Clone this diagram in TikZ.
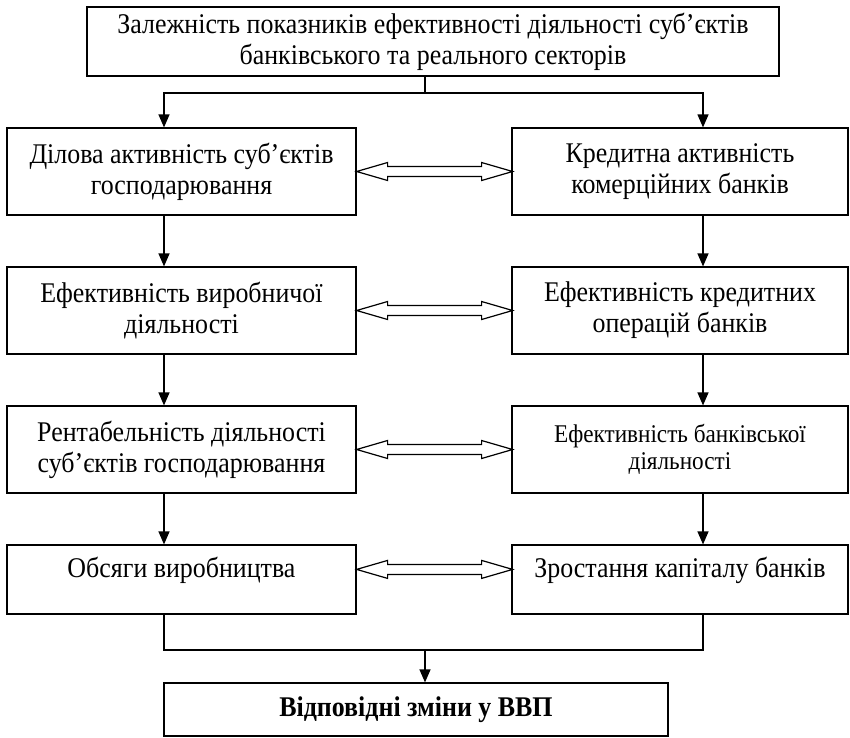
\documentclass[tikz,border=0pt]{standalone}
\usepackage{fontspec}
\setmainfont{Liberation Serif}[FakeStretch=0.91]
\usetikzlibrary{arrows.meta}

\tikzset{
  block/.style={draw, line width=1.2pt, align=center, inner sep=0pt,
    font=\fontsize{28.5}{31}\selectfont},
  leftblock/.style={block, minimum width=349pt, minimum height=87pt},
  rightblock/.style={block, minimum width=336pt, minimum height=87pt},
  link/.style={draw, line width=1.2pt, -{Triangle[length=13pt,width=11pt]}},
  twoway/.style={draw, line width=1.2pt, fill=white}
}

\begin{document}
\begin{tikzpicture}[x=1pt,y=-1pt]

      \useasboundingbox (0,0) rectangle (850,737);

      \node[block, minimum width=692pt, minimum height=69pt] (top) at (433,41.5)
        {Залежність показників ефективності діяльності суб’єктів\\банківського та реального секторів};

      \node[leftblock] (L1) at (181.5,171.5) {Ділова активність суб’єктів\\господарювання};
      \node[leftblock] (L2) at (181.5,310.5) {Ефективність виробничої\\діяльності};
      \node[leftblock] (L3) at (181.5,449.5) {Рентабельність діяльності\\суб’єктів господарювання};
      \node[leftblock, minimum height=69pt, text height=20pt, text depth=25pt] (L4) at (181.5,579.5)
        {Обсяги виробництва};

      \node[rightblock] (R1) at (680,171.5) {Кредитна активність\\комерційних банків};
      \node[rightblock] (R2) at (680,310.5) {Ефективність кредитних\\операцій банків};
      \node[rightblock, font=\fontsize{25.5}{27}\selectfont] (R3) at (680,449.5)
        {Ефективність банківської\\діяльності};
      \node[rightblock, minimum height=69pt, text height=20pt, text depth=25pt] (R4) at (680,579.5)
        {Зростання капіталу банків};

      \node[block, minimum width=504pt, minimum height=53pt, font=\fontsize{28.5}{31}\selectfont\bfseries]
        (gdp) at (416,709.5) {Відповідні зміни у ВВП};

      \coordinate (lx) at (164,0);
      \coordinate (rx) at (703,0);
      \coordinate (split) at (425,93);
      \coordinate (join) at (425,650);

      % top box to both columns
      \draw[line width=1.2pt] (top.south -| split) -- (split);
      \draw[link] (split) -| (L1.north -| lx);
      \draw[link] (split) -| (R1.north -| rx);

      % down the columns
      \foreach \a/\b in {1/2,2/3,3/4}{
        \draw[link] (L\a.south -| lx) -- (L\b.north -| lx);
        \draw[link] (R\a.south -| rx) -- (R\b.north -| rx);
      }

      % both columns to the result
      \draw[line width=1.2pt] (L4.south -| lx) |- (join) -| (R4.south -| rx);
      \draw[link] (join) -- (gdp.north -| join);

      % hollow two-way arrows
      \foreach \r in {1,2,3}
        \draw[twoway] (L\r.east) -- ++(31,-9) -- ++(0,4) -- ++(94,0) -- ++(0,-4) -- ++(31,9)
          -- ++(-31,9) -- ++(0,-4) -- ++(-94,0) -- ++(0,4) -- cycle;
      \draw[twoway] (L4.north east) ++(0,25) -- ++(31,-9) -- ++(0,4) -- ++(94,0) -- ++(0,-4) -- ++(31,9)
          -- ++(-31,9) -- ++(0,-4) -- ++(-94,0) -- ++(0,4) -- cycle;

    \end{tikzpicture}
\end{document}
